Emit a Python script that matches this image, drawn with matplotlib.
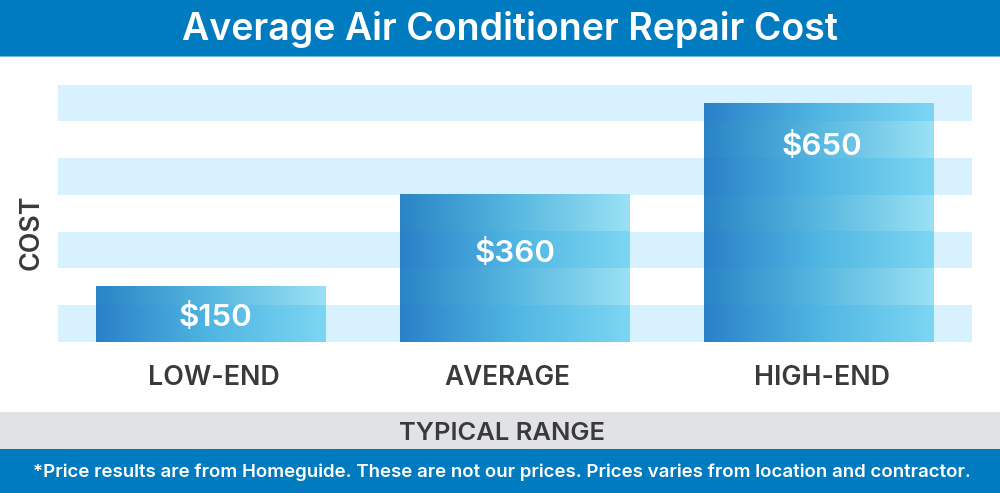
"""
Average AC repair cost: three gradient bars over striped bands, with header and footer strips.
"""

import numpy as np
import matplotlib
matplotlib.use("Agg")
import matplotlib.pyplot as plt
import matplotlib.colors as mcolors
from matplotlib.patches import Rectangle

categories = ["LOW-END", "AVERAGE", "HIGH-END"]
value_labels = ["$150", "$360", "$650"]
# heights as drawn in the picture, the average bar stands taller than its label says
bar_heights = [152, 400, 648]
band_starts = [0, 200, 400, 600]
band_size = 100

FONT = "Inter"
BLUE = "#017bbf"
DARK = "#3a3a3c"
BAND = "#d8f1fe"
W, H = 1000, 493

plt.rcParams["font.family"] = [FONT, "DejaVu Sans"]


def make_grad(colors):
    cmap = mcolors.LinearSegmentedColormap.from_list("bar", colors)
    return cmap(np.linspace(0, 1, 256))[None, :, :3]


grad = make_grad(["#2a84c6", "#58b8e0", "#9ae1f4"])
grad_band = make_grad(["#2a80c8", "#50b6e2", "#7dd6f3"])

fig = plt.figure(figsize=(W / 100, H / 100), dpi=100, facecolor="white")

# page strips in pixel coordinates
page = fig.add_axes([0, 0, 1, 1])
page.set_xlim(0, W)
page.set_ylim(H, 0)
page.axis("off")
page.add_patch(Rectangle((0, 0), W, 56, color=BLUE, lw=0))
page.add_patch(Rectangle((0, 56), W, 1, color="#6fb9e0", lw=0))
page.add_patch(Rectangle((0, 412), W, 37, color="#e1e2e4", lw=0))
page.add_patch(Rectangle((0, 449), W, 44, color=BLUE, lw=0))
page.text(509.5, 30, "Average Air Conditioner Repair Cost", color="white", fontsize=27,
          fontweight="semibold", ha="center", va="center")
page.text(502, 433, "TYPICAL RANGE", color=DARK, fontsize=18.4,
          fontweight="semibold", ha="center", va="center")
page.text(502, 472, "*Price results are from Homeguide. These are not our prices. Prices varies from location and contractor.",
          color="white", fontsize=13.48, fontweight="semibold", ha="center", va="center")
page.text(32, 232, "COST", color=DARK, fontsize=19.3, fontweight="semibold",
          rotation=90, ha="center", va="center")

# chart: baseline at y=342, 700 units up to y=84.6, x from 58 to 972
ax = fig.add_axes([58 / W, 1 - 342 / H, 914 / W, 257.4 / H])
ax.patch.set_alpha(0)
for s in ax.spines.values():
    s.set_visible(False)
ax.set_yticks([])
ax.set_xticks([])

for b in band_starts:
    ax.axhspan(b, b + band_size, color=BAND, lw=0, zorder=1)

bar_w = 229.5 / 304
for i, h in enumerate(bar_heights):
    x0, x1 = i - bar_w / 2, i + bar_w / 2
    ax.imshow(grad, extent=(x0, x1, 0, h), aspect="auto", zorder=2, interpolation="bilinear")
    # bands show through the bar
    for b in band_starts:
        top = min(b + band_size, h)
        if top > b:
            ax.imshow(grad_band, extent=(x0, x1, b, top), aspect="auto",
                      zorder=3, interpolation="bilinear")
ax.set_xlim(-0.503, 2.503)
ax.set_ylim(0, 700)

label_dx = [0.015, 0, 0.01]
label_y = [66, 240, 532]
for i, lab in enumerate(value_labels):
    ax.text(i + label_dx[i], label_y[i], lab, color="white", fontsize=22.5,
            fontweight="semibold", ha="center", va="center", zorder=5)

cat_dx = [0.01, -0.026, 0.01]
cat_size = [19.3, 18.9, 19.3]
for i, cat in enumerate(categories):
    ax.text(i + cat_dx[i], -98, cat, color=DARK, fontsize=cat_size[i], fontweight="semibold",
            ha="center", va="center", clip_on=False)

fig.savefig("out.png", dpi=100)
